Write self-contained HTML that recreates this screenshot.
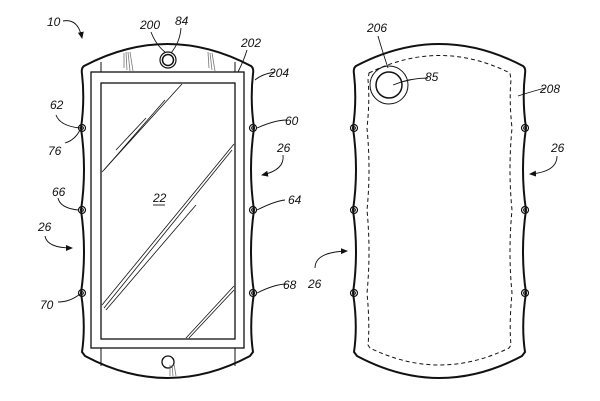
<!DOCTYPE html>
<html><head><style>
html,body{margin:0;padding:0;background:#fff;}
svg{display:block;}
text{font-family:"Liberation Sans",sans-serif;font-style:italic;font-size:12px;fill:#111;}
</style></head><body>
<svg width="600" height="401" viewBox="0 0 600 401" xmlns="http://www.w3.org/2000/svg">
<defs>
<marker id="ah" markerWidth="8" markerHeight="8" refX="6" refY="3" orient="auto" markerUnits="userSpaceOnUse"><path d="M0,0 L7,3 L0,6 Z" fill="#111"/></marker>
</defs>
<g fill="none" stroke="#111">
<path stroke-width="2" d="M84,66 Q167.5,22 251,66 Q254,68 253,74 Q250,100 254,128 Q248,170 254,210 Q248,252 254,293 Q249,325 253,352 L250,356 Q167.5,400 85,356 L82,352 Q86,325 81,293 Q87,252 81,210 Q87,170 81,128 Q85,100 82,74 Q81,68 84,66 Z"/>
<rect x="91" y="72" width="153" height="276" stroke-width="1.3"/>
<rect x="101" y="83" width="134" height="256" stroke-width="1.3"/>
<line x1="101" y1="62" x2="101" y2="72" stroke-width="1"/>
<line x1="235" y1="62" x2="235" y2="72" stroke-width="1"/>
<line x1="101" y1="348" x2="101" y2="366" stroke-width="1"/>
<line x1="235" y1="348" x2="235" y2="366" stroke-width="1"/>
<circle cx="168" cy="60" r="8" stroke-width="1.2"/>
<circle cx="168" cy="60" r="5.5" stroke-width="1.5"/>
<circle cx="168" cy="362" r="6" stroke-width="1.3"/>
<g stroke-width="0.8" stroke="#777">
<line x1="124" y1="53" x2="124" y2="68"/><line x1="126" y1="52" x2="127" y2="70"/><line x1="128" y1="52" x2="130" y2="71"/><line x1="130" y1="52" x2="133" y2="71"/>
<line x1="208" y1="52" x2="209" y2="68"/><line x1="210" y1="53" x2="212" y2="70"/><line x1="212" y1="53" x2="215" y2="71"/>
<line x1="170" y1="365" x2="170" y2="376"/><line x1="172" y1="365" x2="173" y2="376"/><line x1="174" y1="364" x2="176" y2="376"/>
</g>
<g stroke-width="0.8">
<line x1="102" y1="172" x2="182" y2="84"/><line x1="104" y1="170" x2="165" y2="100"/><line x1="116" y1="150" x2="146" y2="118"/>
<line x1="102" y1="305" x2="234" y2="144"/><line x1="104" y1="308" x2="232" y2="150"/><line x1="106" y1="310" x2="196" y2="205"/>
<line x1="186" y1="338" x2="234" y2="286"/><line x1="189" y1="338" x2="234" y2="290"/>
</g>
<g stroke-width="1.2">
<circle cx="82" cy="128" r="3.5"/><circle cx="82" cy="128" r="1.3"/>
<circle cx="82" cy="210" r="3.5"/><circle cx="82" cy="210" r="1.3"/>
<circle cx="82" cy="293" r="3.5"/><circle cx="82" cy="293" r="1.3"/>
<circle cx="253" cy="128" r="3.5"/><circle cx="253" cy="128" r="1.3"/>
<circle cx="253" cy="210" r="3.5"/><circle cx="253" cy="210" r="1.3"/>
<circle cx="253" cy="293" r="3.5"/><circle cx="253" cy="293" r="1.3"/>
</g>
<path stroke-width="2" d="M356,66 Q439.5,22 523,66 Q526,68 525,74 Q522,100 526,128 Q520,170 526,210 Q520,252 526,293 Q521,325 525,352 L522,356 Q439.5,400 357,356 L354,352 Q358,325 353,293 Q359,252 353,210 Q359,170 353,128 Q357,100 354,74 Q353,68 356,66 Z"/>
<path stroke-width="1" stroke-dasharray="4,3" d="M369,73 Q439.5,38 510,73 L511,80 Q509,100 512,128 Q508,170 512,210 Q508,252 512,293 Q509,325 511,345 L509,348 Q439.5,382 370,348 L368,345 Q370,325 367,293 Q371,252 367,210 Q371,170 367,128 Q370,100 368,80 Z"/>
<circle cx="389" cy="85" r="19" stroke-width="1"/>
<circle cx="389" cy="85" r="13" stroke-width="1.5"/>
<g stroke-width="1.2">
<circle cx="354" cy="128" r="3.5"/><circle cx="354" cy="128" r="1.3"/>
<circle cx="354" cy="210" r="3.5"/><circle cx="354" cy="210" r="1.3"/>
<circle cx="354" cy="293" r="3.5"/><circle cx="354" cy="293" r="1.3"/>
<circle cx="525" cy="128" r="3.5"/><circle cx="525" cy="128" r="1.3"/>
<circle cx="525" cy="210" r="3.5"/><circle cx="525" cy="210" r="1.3"/>
<circle cx="525" cy="293" r="3.5"/><circle cx="525" cy="293" r="1.3"/>
</g>
<g stroke-width="0.9">
<path d="M63,21 Q78,18 82,38" marker-end="url(#ah)"/>
<path d="M151,32 Q156,45 165,52"/>
<path d="M181,28 Q180,42 171,53"/>
<path d="M247,50 Q244,60 238,72"/>
<path d="M275,72 Q262,74 255,80"/>
<path d="M56,115 Q60,126 80,128"/>
<path d="M65,143 Q75,140 80,130"/>
<path d="M287,120 Q275,120 257,128"/>
<path d="M283,155 Q285,170 262,175" marker-end="url(#ah)"/>
<path d="M58,198 Q60,208 78,210"/>
<path d="M285,200 Q275,201 257,210"/>
<path d="M45,236 Q47,248 72,248" marker-end="url(#ah)"/>
<path d="M58,302 Q70,302 80,294"/>
<path d="M287,284 Q275,284 257,293"/>
<path d="M378,36 Q382,50 388,68"/>
<path d="M428,78 Q410,78 393,85"/>
<path d="M545,88 Q530,92 518,96"/>
<path d="M557,156 Q557,172 530,174" marker-end="url(#ah)"/>
<path d="M315,268 Q315,252 347,251" marker-end="url(#ah)"/>
<line x1="153" y1="205" x2="165" y2="205"/>
</g>
</g>
<text x="47" y="26">10</text>
<text x="140" y="29">200</text>
<text x="175" y="25">84</text>
<text x="241" y="47">202</text>
<text x="269" y="77">204</text>
<text x="50" y="109">62</text>
<text x="48" y="155">76</text>
<text x="285" y="125">60</text>
<text x="277" y="152">26</text>
<text x="52" y="196">66</text>
<text x="153" y="202">22</text>
<text x="288" y="204">64</text>
<text x="38" y="231">26</text>
<text x="40" y="309">70</text>
<text x="283" y="289">68</text>
<text x="367" y="32">206</text>
<text x="425" y="81">85</text>
<text x="540" y="93">208</text>
<text x="551" y="152">26</text>
<text x="308" y="288">26</text>
</svg>
</body></html>
